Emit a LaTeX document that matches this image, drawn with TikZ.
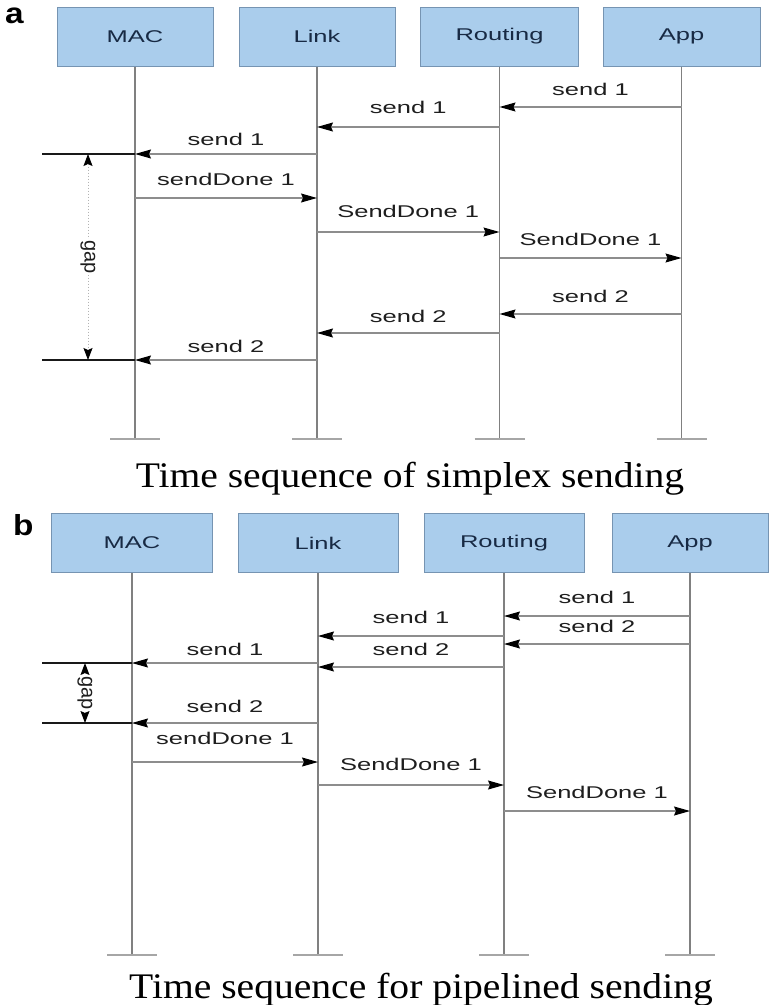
\documentclass[tikz,border=0pt]{standalone}
\usepackage{fontspec}
\newfontfamily\lblfont[FakeStretch=1.5]{Liberation Sans}
\newfontfamily\gapfont{Liberation Sans}
\newfontfamily\capfont[FakeStretch=1.1]{Liberation Serif}
\newfontfamily\tagfont[FakeStretch=1.15]{Liberation Sans}
\usetikzlibrary{arrows.meta}
\definecolor{headfill}{RGB}{170,205,236}
\definecolor{headdraw}{RGB}{118,148,178}
\definecolor{headtext}{RGB}{24,42,68}
\definecolor{linegray}{RGB}{128,128,128}
\definecolor{textgray}{RGB}{30,30,30}
\tikzset{ hd/.style = { rectangle % lifeline head
        , draw = headdraw
        , fill = headfill
        , line width = 1pt
        , minimum height = 59pt
        , text = headtext
        , font = \lblfont\fontsize{17}{18}\selectfont
        }
        , tg/.style = { inner sep = 0pt % panel letter
        , anchor = base west
        , font = \tagfont\bfseries\fontsize{29}{30}\selectfont
        }
        , ct/.style = { inner sep = 0pt % caption
        , anchor = base
        , font = \capfont\fontsize{36}{38}\selectfont
        }
        }
\begin{document}
\begin{tikzpicture}[x=1pt, y=-1pt,
        life_style/.style={draw=linegray, line width=1.2pt},
        foot_style/.style={draw=linegray!70, line width=1.2pt},
        msg_style/.style={draw=linegray!90, line width=1.1pt, -{Stealth[length=16pt,width=9pt,inset=2pt,black]}},
        msg_node_style/.style={midway, inner sep=0pt, text=textgray, font=\lblfont\fontsize{17}{18}\selectfont},
        bar_style/.style={draw=black!90, line width=2.6pt},
        gap_style/.style={draw=linegray!60, dotted, line width=1pt, {Stealth[length=12pt,width=9pt,inset=2pt,black]}-{Stealth[length=12pt,width=9pt,inset=2pt,black]}},
        gap_node_style/.style={midway, fill=white, inner sep=1pt, rotate=-90, text=textgray, font=\gapfont\fontsize{20}{22}\selectfont}]
        \useasboundingbox (0,0) rectangle (769,1005);

        % panel a
        \node [tg] (taga) at (5,23) {a};
        \node [hd, minimum width=156pt] (a1) at (135,36.5) {MAC};
        \node [hd, minimum width=156pt] (a2) at (317,36.5) {Link};
        \node [hd, minimum width=158pt] (a3) at (499.5,36.5) {Routing};
        \node [hd, minimum width=157pt] (a4) at (681.5,36.5) {App};
        \foreach \n in {a1,a2,a3,a4} {
            \coordinate (\n-end) at (\n |- 0,439);
            \draw [life_style] (\n) -- (\n-end);
            \draw [foot_style] ([xshift=-25pt]\n-end) -- ([xshift=25pt]\n-end);
        }
        \draw [msg_style] (a4 |- 0,107) -- node [msg_node_style, above=11pt] {send 1} (a3 |- 0,107);
        \draw [msg_style] (a3 |- 0,127) -- node [msg_node_style, above=13pt] {send 1} (a2 |- 0,127);
        \draw [msg_style] (a2 |- 0,154) -- node [msg_node_style, above=8pt] {send 1} (a1 |- 0,154);
        \draw [msg_style] (a1 |- 0,198) -- node [msg_node_style, above=12pt] {sendDone 1} (a2 |- 0,198);
        \draw [msg_style] (a2 |- 0,232) -- node [msg_node_style, above=14pt] {SendDone 1} (a3 |- 0,232);
        \draw [msg_style] (a3 |- 0,258) -- node [msg_node_style, above=12pt] {SendDone 1} (a4 |- 0,258);
        \draw [msg_style] (a4 |- 0,314) -- node [msg_node_style, above=11pt] {send 2} (a3 |- 0,314);
        \draw [msg_style] (a3 |- 0,333) -- node [msg_node_style, above=10pt] {send 2} (a2 |- 0,333);
        \draw [msg_style] (a2 |- 0,360) -- node [msg_node_style, above=7pt] {send 2} (a1 |- 0,360);
        \coordinate (gapa1) at (42,154);
        \coordinate (gapa2) at (42,360);
        \draw [bar_style] (gapa1) -- (a1 |- gapa1);
        \draw [bar_style] (gapa2) -- (a1 |- gapa2);
        \draw [gap_style] (88,154) -- node [gap_node_style] {gap} (88,360);
        \node [ct] (capa) at (410,487) {Time sequence of simplex sending};

        % panel b
        \node [tg] (tagb) at (13,535) {b};
        \node [hd, minimum width=161pt] (b1) at (132,543) {MAC};
        \node [hd, minimum width=160pt] (b2) at (318,543) {Link};
        \node [hd, minimum width=160pt] (b3) at (504,543) {Routing};
        \node [hd, minimum width=156pt] (b4) at (690,543) {App};
        \foreach \n in {b1,b2,b3,b4} {
            \coordinate (\n-end) at (\n |- 0,955);
            \draw [life_style] (\n) -- (\n-end);
            \draw [foot_style] ([xshift=-25pt]\n-end) -- ([xshift=25pt]\n-end);
        }
        \draw [msg_style] (b4 |- 0,616) -- node [msg_node_style, above=12pt] {send 1} (b3 |- 0,616);
        \draw [msg_style] (b4 |- 0,644) -- node [msg_node_style, above=11pt] {send 2} (b3 |- 0,644);
        \draw [msg_style] (b3 |- 0,636) -- node [msg_node_style, above=12pt] {send 1} (b2 |- 0,636);
        \draw [msg_style] (b3 |- 0,667) -- node [msg_node_style, above=11pt] {send 2} (b2 |- 0,667);
        \draw [msg_style] (b2 |- 0,663) -- node [msg_node_style, above=7pt] {send 1} (b1 |- 0,663);
        \draw [msg_style] (b2 |- 0,723) -- node [msg_node_style, above=10pt] {send 2} (b1 |- 0,723);
        \draw [msg_style] (b1 |- 0,762) -- node [msg_node_style, above=17pt] {sendDone 1} (b2 |- 0,762);
        \draw [msg_style] (b2 |- 0,785) -- node [msg_node_style, above=14pt] {SendDone 1} (b3 |- 0,785);
        \draw [msg_style] (b3 |- 0,811) -- node [msg_node_style, above=12pt] {SendDone 1} (b4 |- 0,811);
        \coordinate (gapb1) at (42,663);
        \coordinate (gapb2) at (42,723);
        \draw [bar_style] (gapb1) -- (b1 |- gapb1);
        \draw [bar_style] (gapb2) -- (b1 |- gapb2);
        \draw [gap_style] (85,663) -- node [gap_node_style] {gap} (85,723);
        \node [ct] (capb) at (421,998) {Time sequence for pipelined sending};
\end{tikzpicture}
\end{document}
